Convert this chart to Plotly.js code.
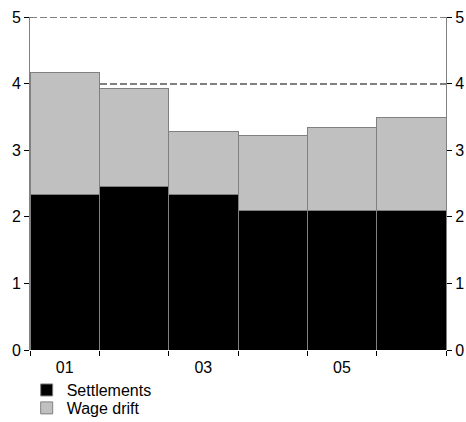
<!DOCTYPE html>
<html><head><meta charset="utf-8">
<script src="https://cdn.plot.ly/plotly-3.0.1.min.js"></script>
<style>html,body{margin:0;padding:0;background:#fff;}#chart{width:466px;height:422px;}</style>
</head><body><div id="chart"></div>
<script>
var years = ['01','02','03','04','05','06'];
var settlements = [2.33, 2.46, 2.33, 2.10, 2.10, 2.10];
var wageDrift = [1.83, 1.46, 0.95, 1.12, 1.24, 1.39];
var tickLabels = ['01','03','05'];
var labelIdx = [0, 2, 4];

var xs = years.map(function(_, i){ return i; });
var boundaries = years.map(function(_, i){ return i - 0.5; }).concat([years.length - 0.5]);
var lineCol = '#808080';

var traces = [
  {type:'bar', name:'Settlements', x:xs, y:settlements, width:1, legend:'legend',
   marker:{color:'#000000', line:{color:lineCol, width:1}}},
  {type:'bar', name:'Wage drift', x:xs, y:wageDrift, width:1, legend:'legend2',
   marker:{color:'#c0c0c0', line:{color:lineCol, width:1}}}
];
var font = {family:'"Liberation Sans", Arial, sans-serif', size:16, color:'#000'};
function leg(y){
  return {x:-0.008, xanchor:'left', yref:'container', y:y, yanchor:'top',
          font:font, bgcolor:'rgba(0,0,0,0)'};
}
var layout = {
  width:466, height:422, barmode:'stack', bargap:0,
  margin:{l:29.5, r:20, t:16.5, b:72, autoexpand:false},
  paper_bgcolor:'#fff', plot_bgcolor:'#fff',
  font:font, showlegend:true,
  legend:leg(0.116),
  legend2:leg(0.0735),
  xaxis:{range:[-0.5, years.length - 0.5], tickmode:'array', tickvals:labelIdx, ticktext:tickLabels,
         ticks:'', ticklabelstandoff:6, showgrid:false, zeroline:false, showline:false, tickfont:font,
         minor:{tickmode:'array', tickvals:boundaries, ticks:'outside', ticklen:5, tickcolor:'#000', showgrid:false}},
  yaxis:{range:[0,5], tickvals:[0,1,2,3,4,5], ticks:'outside', ticklen:5, tickcolor:'#000',
         showline:true, linecolor:lineCol, linewidth:1, zeroline:false,
         showgrid:true, gridcolor:lineCol, griddash:'7px,3px', gridwidth:1.8, tickfont:font},
  yaxis2:{range:[0,5], tickvals:[0,1,2,3,4,5], ticks:'outside', ticklen:5, tickcolor:'#000',
          overlaying:'y', side:'right', showline:true, linecolor:lineCol, linewidth:1,
          zeroline:false, showgrid:false, tickfont:font},
  shapes:[{type:'line', xref:'paper', yref:'y', x0:0, x1:1, y0:5, y1:5, layer:'below',
           line:{color:lineCol, width:1.8, dash:'7px,3px'}}]
};
traces.push({type:'scatter', x:[0], y:[0], yaxis:'y2', showlegend:false, hoverinfo:'skip',
             mode:'markers', marker:{opacity:0}});
Plotly.newPlot('chart', traces, layout, {displayModeBar:false, staticPlot:true});
</script></body></html>
